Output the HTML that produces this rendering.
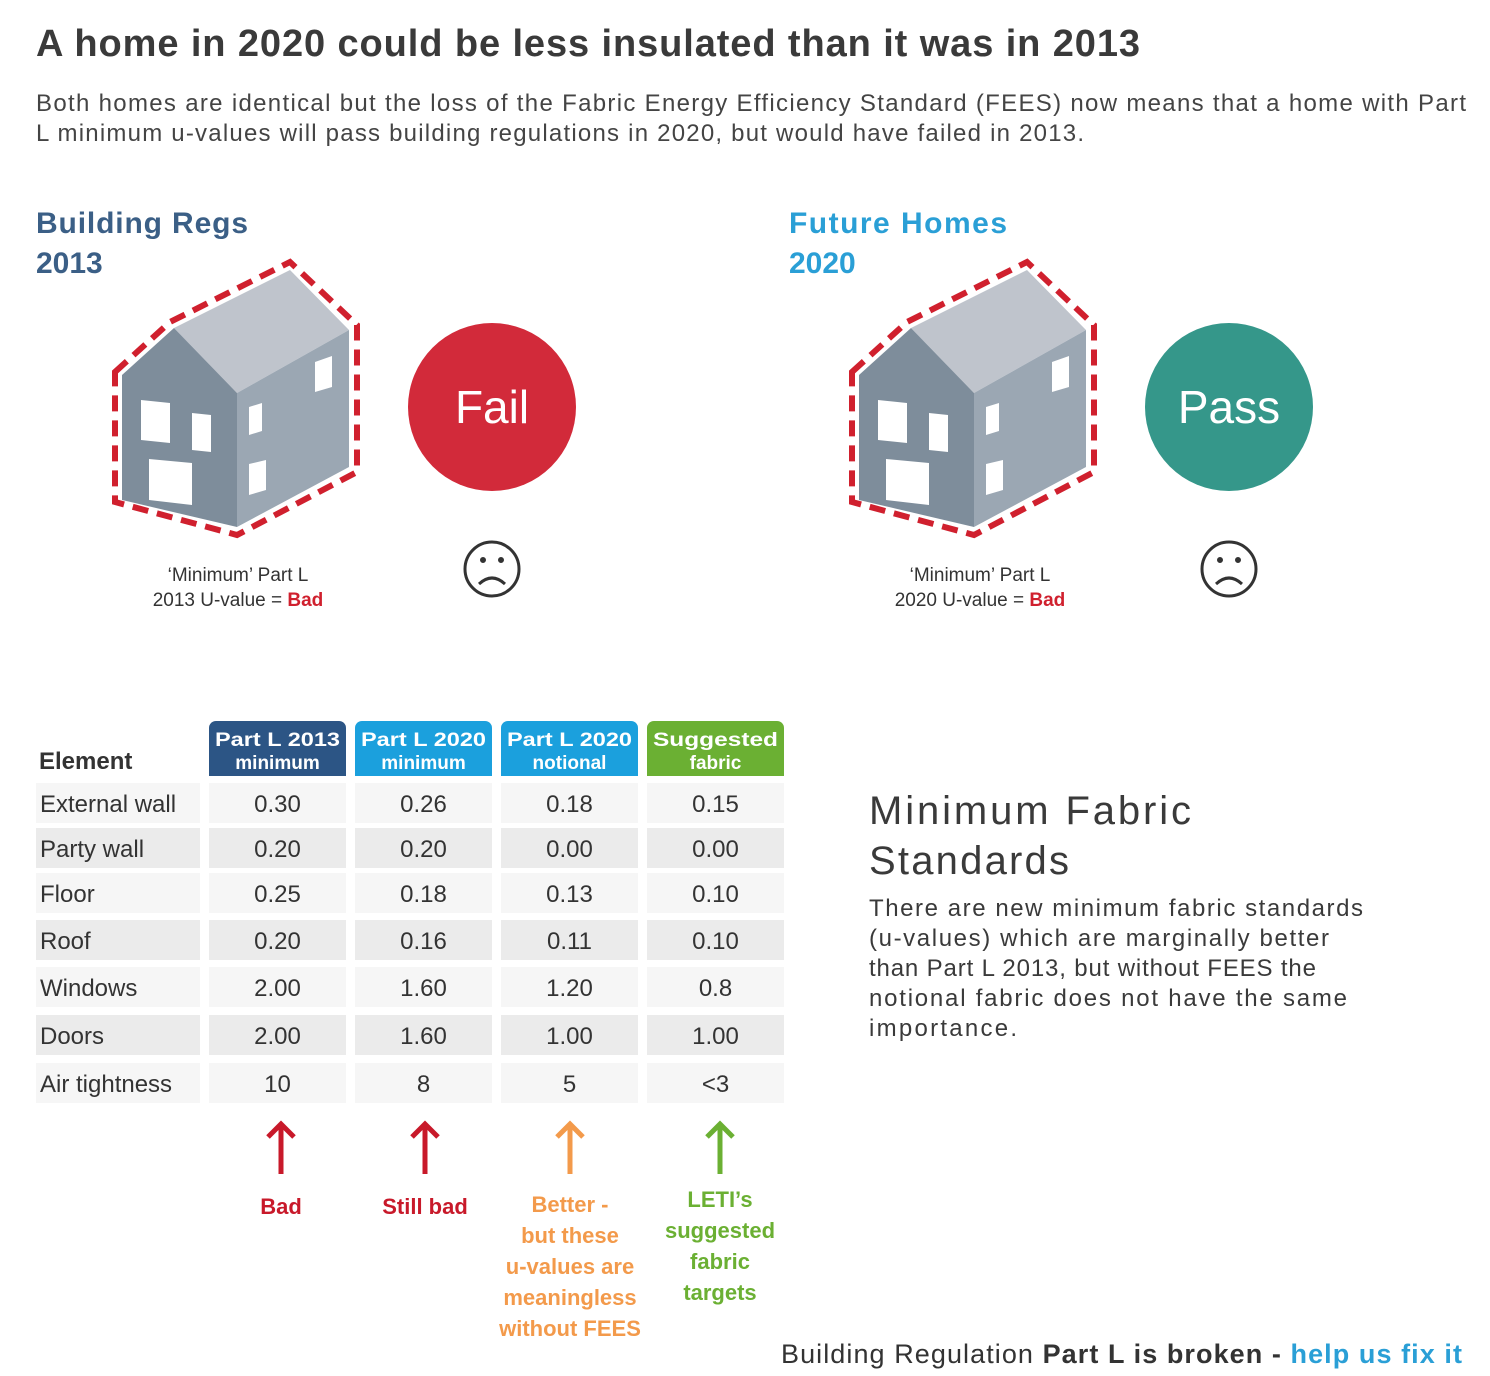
<!DOCTYPE html>
<html><head><meta charset="utf-8"><style>
html,body{margin:0;padding:0;background:#fff;}
svg{display:block;font-family:"Liberation Sans",sans-serif;}
</style></head><body>
<svg id="root" width="1490" height="1376" viewBox="0 0 1490 1376">
<text x="36" y="56" font-size="38" font-weight="bold" fill="#3a3a3a" textLength="1104">A home in 2020 could be less insulated than it was in 2013</text>
<text x="36" y="111" font-size="24" fill="#444" textLength="1430">Both homes are identical but the loss of the Fabric Energy Efficiency Standard (FEES) now means that a home with Part</text>
<text x="36" y="141" font-size="24" fill="#444" textLength="1048">L minimum u-values will pass building regulations in 2020, but would have failed in 2013.</text>

<g>
<text x="36" y="233" font-size="30" font-weight="bold" fill="#3b5f86" textLength="212">Building Regs</text>
<text x="36" y="273" font-size="30" font-weight="bold" fill="#3b5f86">2013</text>
</g>
<g>
<text x="789" y="233" font-size="30" font-weight="bold" fill="#2a9fd6" textLength="218">Future Homes</text>
<text x="789" y="273" font-size="30" font-weight="bold" fill="#2a9fd6">2020</text>
</g>

<defs>
<g id="house">
<polygon points="115,372 170,322 290,262 357,325 357,472 237,535 115,502" fill="none" stroke="#d0202e" stroke-width="6" stroke-dasharray="16,9"/>
<polygon points="174,328 290,270 349,330 237,393" fill="#bfc4cc"/>
<polygon points="122,375 174,328 237,393 237,527 122,500" fill="#7e8d9b"/>
<polygon points="237,393 349,330 349,467 237,527" fill="#9ba7b3"/>
<polygon points="141,400 170,403 170,443 141,440" fill="#fff"/>
<polygon points="192,413 211,415 211,452 192,450" fill="#fff"/>
<polygon points="149,459 192,463 192,505 149,500" fill="#fff"/>
<polygon points="249,407 262,403 262,431 249,435" fill="#fff"/>
<polygon points="315,362 332,356 332,387 315,392" fill="#fff"/>
<polygon points="249,464 266,460 266,490 249,495" fill="#fff"/>
</g>
</defs>
<use href="#house"/>
<use href="#house" transform="translate(737,0)"/>

<circle cx="492" cy="407" r="84" fill="#d22a3a"/>
<text x="492" y="423" font-size="46" fill="#fff" text-anchor="middle">Fail</text>
<circle cx="1229" cy="407" r="84" fill="#35978a"/>
<text x="1229" y="423" font-size="46" fill="#fff" text-anchor="middle">Pass</text>

<g fill="none" stroke="#333" stroke-width="3">
<circle cx="492" cy="569" r="27"/><path d="M479,584 Q492,572 505,584"/>
<circle cx="483" cy="560" r="1.5" fill="#333"/><circle cx="501" cy="560" r="1.5" fill="#333"/>
</g>
<g fill="none" stroke="#333" stroke-width="3">
<circle cx="1229" cy="569" r="27"/><path d="M1216,584 Q1229,572 1242,584"/>
<circle cx="1220" cy="560" r="1.5" fill="#333"/><circle cx="1238" cy="560" r="1.5" fill="#333"/>
</g>

<text x="238" y="581" font-size="19" fill="#333" text-anchor="middle">‘Minimum’ Part L</text>
<text x="238" y="606" font-size="19" fill="#333" text-anchor="middle">2013 U-value = <tspan fill="#d0202e" font-weight="bold">Bad</tspan></text>
<text x="980" y="581" font-size="19" fill="#333" text-anchor="middle">‘Minimum’ Part L</text>
<text x="980" y="606" font-size="19" fill="#333" text-anchor="middle">2020 U-value = <tspan fill="#d0202e" font-weight="bold">Bad</tspan></text>

<g id="table">
<text x="39" y="769" font-size="24" font-weight="bold" fill="#333">Element</text>
</g>

<text x="869" y="824" font-size="40" fill="#3a3a3a" textLength="322">Minimum Fabric</text>
<text x="869" y="874" font-size="40" fill="#3a3a3a" textLength="200">Standards</text>
<g font-size="24" fill="#3a3a3a">
<text x="869" y="916" textLength="494">There are new minimum fabric standards</text>
<text x="869" y="946" textLength="460">(u-values) which are marginally better</text>
<text x="869" y="976" textLength="447">than Part L 2013, but without FEES the</text>
<text x="869" y="1006" textLength="478">notional fabric does not have the same</text>
<text x="869" y="1036" textLength="148">importance.</text>
</g>

<text x="1462" y="1363" font-size="27" fill="#333" text-anchor="end" textLength="681">Building Regulation <tspan font-weight="bold">Part L is broken - </tspan><tspan font-weight="bold" fill="#2a9fd6">help us fix it</tspan></text>
</svg>
<script>
const elements = ["External wall","Party wall","Floor","Roof","Windows","Doors","Air tightness"];
const headers1 = ["Part L 2013","Part L 2020","Part L 2020","Suggested"];
const headers2 = ["minimum","minimum","notional","fabric"];
const partL2013 = ["0.30","0.20","0.25","0.20","2.00","2.00","10"];
const partL2020min = ["0.26","0.20","0.18","0.16","1.60","1.60","8"];
const partL2020not = ["0.18","0.00","0.13","0.11","1.20","1.00","5"];
const suggested = ["0.15","0.00","0.10","0.10","0.8","1.00","<3"];
const verdicts = [["Bad"],["Still bad"],["Better -","but these","u-values are","meaningless","without FEES"],["LETI’s","suggested","fabric","targets"]];

const NS="http://www.w3.org/2000/svg";
const t=document.getElementById('table');
const root=document.getElementById('root');
const colX=[209,355,501,647], colW=137;
const hdrColors=["#2c5585","#1ba0dd","#1ba0dd","#6bb033"];
const verdictColors=["#c8192a","#c8192a","#f39a4b","#6bb033"];
const rowTop=[783,828,873,920,967,1015,1063], rowH=40;
const cols=[partL2013,partL2020min,partL2020not,suggested];
function mk(tag,attrs,parent){const e=document.createElementNS(NS,tag);for(const k in attrs)e.setAttribute(k,attrs[k]);parent.appendChild(e);return e;}
for(let c=0;c<4;c++){
  const r=mk('path',{d:`M${colX[c]},776 V728 a7,7 0 0 1 7,-7 H${colX[c]+colW-7} a7,7 0 0 1 7,7 V776 Z`,fill:hdrColors[c]},t);
  
  
  const a=mk('text',{x:colX[c]+colW/2,y:746,'font-size':19,'font-weight':'bold',fill:'#fff','text-anchor':'middle',textLength:125,lengthAdjust:'spacingAndGlyphs'},t);
  a.textContent=headers1[c];
  
  
  const b=mk('text',{x:colX[c]+colW/2,y:769,'font-size':19,'font-weight':'bold',fill:'#fff','text-anchor':'middle'},t);
  b.textContent=headers2[c];
  
  
}
for(let i=0;i<elements.length;i++){
  const bg=i%2?"#ebebeb":"#f6f6f6";
  const y=rowTop[i];
  const e=mk('rect',{x:36,y:y,width:164,height:rowH,fill:bg},t);
  
  
  const l=mk('text',{x:40,y:y+29,'font-size':24,fill:'#333'},t);
  l.textContent=elements[i];
  
  
  for(let c=0;c<4;c++){
    const cr=mk('rect',{x:colX[c],y:y,width:colW,height:rowH,fill:bg},t);
    
    
    const v=mk('text',{x:colX[c]+colW/2,y:y+29,'font-size':24,fill:'#333','text-anchor':'middle'},t);
    v.textContent=cols[c][i];
    
    
  }
}
for(let c=0;c<4;c++){
  const cx=[281,425,570,720][c];
  const g=mk('g',{stroke:verdictColors[c],'stroke-width':5,fill:'none'},root);
  
  
  mk('path',{d:`M${cx},1174 V1124 M${cx-13},1137 L${cx},1124 L${cx+13},1137`},g);
  const lines=verdicts[c];
  const y0=c<2?1214:(c==2?1212:1207);
  lines.forEach((s,j)=>{
    const tx=mk('text',{x:cx,y:y0+j*31,'font-size':22,'font-weight':'bold',fill:verdictColors[c],'text-anchor':'middle'},root);
    tx.textContent=s;
    
    
  });
}
</script>
</body></html>
